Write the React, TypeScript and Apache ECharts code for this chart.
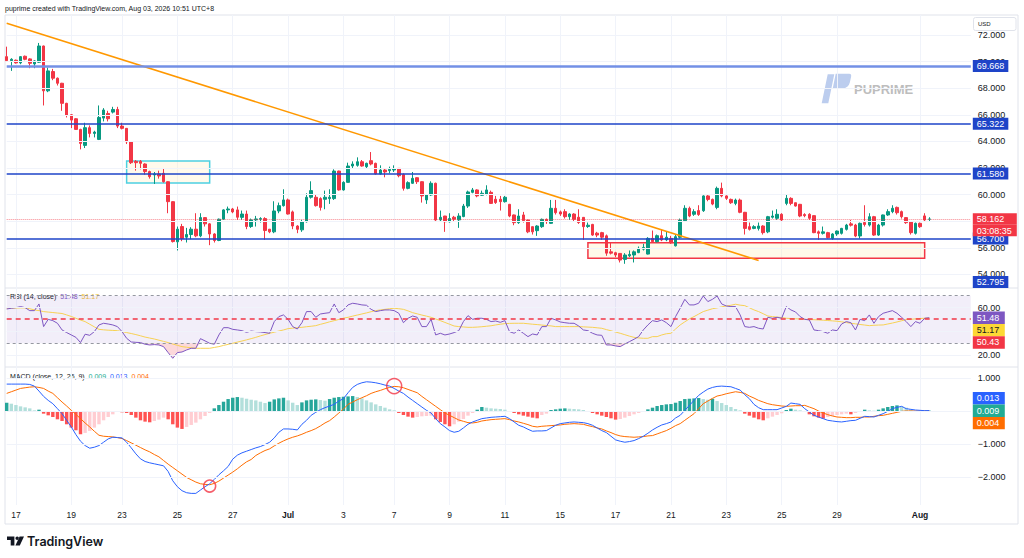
import { useEffect, useRef } from "react";
import * as echarts from "echarts";

// ---------- axis ticks / categories ----------
const slotCount = 210;
const tickIdx = [2, 14, 25, 37, 49, 61, 73, 84, 96, 108, 120, 132, 144, 156, 168, 180, 198];
const tickText = ["17", "19", "23", "25", "27", "Jul", "3", "7", "9", "11", "15", "17", "21", "23", "25", "29", "Aug"];
const monthTicks = ["Jul", "Aug"];

// ---------- OHLC (4H bars) ----------
const opens = [
  70.37, 70.07, 70.10, 69.90, 70.40, 70.20, 69.82, 69.95, 71.17, 67.80,
  69.25, 68.75, 68.37, 66.86, 66.00, 65.70, 64.90, 63.70, 65.03, 64.60,
  64.15, 65.75, 66.10, 66.20, 66.40, 65.15, 64.98, 63.97, 62.50, 62.50,
  62.30, 61.73, 61.48, 61.55, 61.60, 60.97, 59.47, 56.45, 57.60, 56.80,
  57.00, 57.40, 56.90, 58.27, 57.80, 57.04, 56.55, 58.15, 58.85, 58.92,
  58.85, 58.29, 58.54, 57.60, 58.10, 58.15, 58.20, 57.40, 57.20, 58.77,
  59.17, 59.60, 58.70, 57.64, 57.35, 57.96, 59.80, 59.80, 59.70, 59.65,
  59.70, 59.70, 61.77, 60.35, 60.92, 62.15, 62.20, 62.47, 62.10, 62.55,
  62.35, 61.55, 61.85, 61.80, 61.85, 61.97, 61.50, 60.47, 60.85, 61.27,
  60.97, 59.60, 59.97, 60.85, 58.10, 58.39, 57.96, 58.30, 58.10, 58.35,
  59.14, 60.17, 60.35, 59.95, 60.02, 60.17, 59.65, 59.65, 59.47, 59.27,
  58.47, 57.89, 58.47, 58.09, 57.59, 57.29, 57.59, 58.14, 57.84, 58.97,
  58.70, 58.72, 58.34, 58.54, 58.30, 58.29, 57.60, 57.76, 57.10, 57.14,
  56.90, 55.70, 55.63, 55.58, 55.13, 55.40, 55.46, 55.64, 55.90, 55.53,
  56.71, 56.46, 56.91, 56.60, 56.71, 56.15, 56.79, 58.04, 58.97, 58.52,
  58.80, 58.79, 59.90, 59.64, 59.04, 60.47, 59.90, 59.64, 59.34, 59.59,
  58.67, 57.59, 57.46, 57.46, 57.64, 57.20, 58.30, 58.22, 58.52, 59.34,
  59.72, 59.39, 59.27, 58.50, 58.52, 58.42, 57.20, 57.09, 57.14, 56.71,
  57.04, 57.09, 57.39, 57.80, 57.71, 56.89, 57.90, 57.71, 58.34, 56.96,
  57.71, 58.47, 58.72, 59.04, 58.72, 58.27, 57.96, 57.09, 57.84, 58.40,
  58.15,
];
const highs = [
  71.12, 70.25, 70.15, 70.40, 70.45, 70.25, 70.10, 71.40, 71.20, 69.55,
  69.45, 68.80, 68.40, 66.90, 66.05, 65.75, 64.95, 65.40, 65.20, 64.80,
  66.70, 66.50, 66.30, 66.60, 66.60, 65.40, 65.00, 64.00, 62.60, 62.60,
  62.35, 61.80, 61.70, 61.80, 62.00, 61.00, 59.50, 57.60, 57.80, 57.50,
  57.55, 58.60, 58.60, 58.30, 57.85, 57.10, 58.20, 58.90, 59.10, 59.00,
  59.10, 58.80, 58.80, 58.20, 58.40, 58.30, 58.30, 57.40, 59.50, 59.40,
  60.40, 59.70, 58.80, 57.70, 58.10, 60.10, 61.00, 60.00, 59.80, 60.30,
  60.40, 61.90, 61.80, 61.00, 62.40, 62.50, 62.80, 62.60, 62.40, 63.20,
  62.40, 62.20, 62.00, 62.10, 62.20, 62.00, 61.60, 61.00, 61.70, 61.30,
  61.00, 60.00, 61.00, 60.90, 58.80, 58.40, 58.60, 58.40, 58.60, 59.30,
  60.30, 60.50, 60.40, 60.30, 60.70, 60.30, 59.90, 59.90, 59.90, 59.30,
  58.50, 58.90, 58.70, 58.10, 57.60, 57.70, 58.20, 58.20, 59.60, 59.60,
  58.80, 58.90, 58.60, 58.60, 58.90, 58.30, 57.90, 57.80, 57.20, 57.20,
  57.00, 56.40, 55.70, 55.60, 55.60, 55.80, 55.80, 56.10, 56.30, 56.80,
  57.30, 57.00, 57.40, 57.20, 56.90, 57.00, 58.20, 59.20, 59.10, 58.90,
  59.20, 59.95, 60.00, 59.70, 60.60, 60.90, 59.95, 59.70, 59.70, 59.70,
  58.70, 57.90, 57.70, 57.90, 57.70, 58.40, 58.80, 58.90, 58.60, 60.00,
  59.80, 59.40, 59.30, 58.60, 58.60, 58.45, 57.30, 57.60, 57.20, 57.10,
  57.30, 57.50, 57.80, 58.10, 57.80, 57.90, 59.20, 58.60, 58.40, 57.80,
  58.50, 58.90, 59.20, 59.10, 58.80, 58.30, 58.00, 57.90, 57.90, 58.60,
  58.30,
];
const lows = [
  70.05, 69.30, 69.85, 69.80, 70.10, 69.50, 69.50, 69.90, 66.70, 67.70,
  68.60, 68.20, 66.30, 65.80, 65.00, 64.90, 63.40, 63.50, 64.30, 64.30,
  64.10, 65.50, 65.50, 66.10, 65.00, 64.90, 63.80, 62.30, 61.80, 61.90,
  61.50, 61.20, 60.80, 61.20, 60.90, 58.60, 56.40, 55.80, 56.50, 56.40,
  56.65, 56.80, 56.80, 57.60, 56.20, 56.40, 56.50, 58.10, 58.60, 58.60,
  58.10, 58.10, 57.40, 57.50, 57.60, 57.90, 56.60, 57.10, 57.10, 58.60,
  59.10, 58.50, 57.40, 57.10, 57.20, 57.90, 59.70, 59.10, 58.80, 58.90,
  59.30, 59.60, 60.30, 60.30, 60.90, 62.00, 62.10, 62.10, 62.00, 62.20,
  61.50, 61.50, 61.30, 61.60, 61.70, 61.30, 60.30, 60.40, 60.80, 60.80,
  59.40, 59.30, 59.90, 58.00, 58.00, 57.20, 57.90, 58.00, 57.50, 58.30,
  59.00, 60.10, 59.80, 59.90, 59.95, 59.30, 59.30, 58.80, 59.40, 58.30,
  57.70, 57.80, 57.90, 57.10, 57.00, 56.90, 57.50, 57.80, 57.80, 58.50,
  58.40, 58.20, 58.10, 58.00, 57.80, 56.60, 57.50, 56.90, 56.80, 56.60,
  55.40, 55.50, 55.30, 54.90, 54.80, 55.30, 54.90, 55.60, 55.80, 55.50,
  56.40, 56.40, 56.50, 56.50, 56.30, 56.10, 56.70, 58.00, 58.30, 58.40,
  58.40, 58.70, 59.50, 59.20, 58.90, 59.80, 59.60, 59.30, 59.20, 58.60,
  57.00, 57.30, 57.40, 57.30, 57.00, 57.10, 58.20, 58.10, 58.00, 59.20,
  59.20, 59.10, 58.30, 58.30, 58.10, 57.10, 56.60, 57.00, 56.70, 56.60,
  56.90, 57.00, 57.30, 57.60, 56.80, 56.70, 57.60, 57.60, 56.90, 56.90,
  57.60, 58.40, 58.60, 58.50, 58.20, 57.80, 57.00, 57.00, 57.50, 58.00,
  58.00,
];
const closes = [
  70.07, 70.17, 69.90, 70.37, 70.17, 69.87, 70.05, 71.17, 67.80, 69.30,
  68.75, 68.37, 66.86, 65.98, 65.60, 64.90, 63.85, 65.03, 64.60, 64.70,
  65.80, 66.36, 65.70, 66.40, 65.15, 64.98, 63.97, 62.40, 62.40, 62.35,
  61.73, 61.35, 61.55, 61.40, 60.97, 59.47, 56.47, 57.40, 56.70, 57.00,
  57.40, 56.90, 58.27, 57.80, 57.04, 56.55, 58.15, 58.85, 58.92, 58.70,
  58.30, 58.54, 57.60, 58.10, 58.17, 58.20, 57.30, 57.20, 58.77, 59.17,
  59.60, 58.54, 57.64, 57.39, 57.96, 59.80, 60.30, 59.17, 59.04, 59.80,
  59.80, 61.77, 60.35, 60.92, 62.15, 62.30, 62.47, 62.15, 62.35, 62.30,
  61.55, 61.85, 61.70, 61.90, 61.95, 61.42, 60.47, 60.90, 61.22, 60.97,
  59.90, 59.97, 60.85, 58.09, 58.29, 57.96, 58.20, 58.15, 58.39, 59.14,
  60.20, 60.35, 59.90, 60.10, 60.35, 59.34, 59.40, 59.47, 59.80, 58.39,
  57.89, 58.39, 58.04, 57.20, 57.20, 57.64, 58.14, 57.97, 58.97, 58.64,
  58.54, 58.34, 58.54, 58.14, 57.90, 57.59, 57.70, 56.96, 56.96, 56.80,
  55.60, 55.60, 55.46, 55.08, 55.46, 55.50, 55.70, 55.96, 56.03, 56.71,
  56.46, 56.91, 56.59, 56.80, 56.38, 56.84, 58.09, 58.97, 58.39, 58.72,
  58.50, 59.90, 59.64, 59.29, 60.47, 59.90, 59.72, 59.39, 59.59, 58.67,
  57.46, 57.39, 57.59, 57.64, 57.14, 58.34, 58.39, 58.52, 58.09, 59.72,
  59.34, 59.14, 58.39, 58.42, 58.22, 57.14, 57.09, 57.20, 56.76, 57.04,
  57.26, 57.46, 57.71, 57.70, 56.89, 57.84, 57.75, 58.34, 56.96, 57.71,
  58.47, 58.72, 58.97, 58.64, 58.34, 57.89, 57.14, 57.84, 57.59, 58.09,
  58.162,
];

// ---------- RSI (14) and its MA ----------
const rsi = [
  58.8, 59.4, 59.9, 60.8, 59.9, 57.4, 57.4, 63.0, 44.0, 50.1,
  49.0, 46.8, 41.2, 39.0, 37.0, 35.0, 30.6, 37.6, 36.7, 39.8,
  45.4, 46.8, 46.2, 45.4, 44.0, 39.8, 34.2, 31.1, 30.8, 30.6,
  29.2, 28.6, 28.9, 28.6, 27.2, 22.2, 17.4, 22.2, 22.7, 24.4,
  25.8, 25.8, 33.9, 32.0, 30.0, 29.2, 37.0, 43.1, 43.1, 41.7,
  41.2, 40.6, 39.2, 40.3, 39.8, 39.5, 39.0, 38.4, 48.2, 52.4,
  53.8, 50.1, 44.0, 42.0, 47.3, 56.6, 56.6, 51.8, 54.6, 55.2,
  55.7, 63.0, 55.7, 58.0, 62.2, 63.6, 63.0, 62.2, 61.9, 58.5,
  56.6, 57.4, 58.0, 58.0, 57.4, 55.2, 47.3, 51.0, 52.9, 51.8,
  44.0, 44.0, 50.1, 37.0, 38.4, 37.0, 37.8, 39.0, 40.6, 48.2,
  53.2, 50.1, 51.0, 51.0, 50.1, 48.2, 48.7, 47.6, 49.0, 39.8,
  38.4, 41.2, 38.4, 35.6, 37.8, 37.0, 44.0, 44.0, 51.0, 49.6,
  47.9, 47.3, 46.8, 46.8, 44.5, 41.2, 40.6, 38.4, 37.0, 36.7,
  28.6, 28.6, 27.8, 27.2, 29.4, 31.4, 33.4, 35.6, 41.2, 45.4,
  49.0, 48.2, 49.6, 47.3, 44.0, 52.4, 59.4, 66.9, 62.2, 62.2,
  63.6, 69.7, 65.0, 66.9, 69.7, 63.0, 61.3, 60.8, 60.8, 53.8,
  44.0, 43.4, 44.0, 42.6, 42.0, 51.8, 51.0, 51.8, 51.0, 60.8,
  58.0, 56.3, 52.4, 50.1, 49.6, 41.2, 40.6, 39.8, 38.4, 41.2,
  40.6, 46.2, 48.2, 47.3, 41.2, 50.1, 49.0, 53.8, 46.8, 52.4,
  55.2, 56.3, 57.4, 55.2, 51.8, 48.2, 44.0, 48.2, 46.8, 51.0,
  51.48,
];
const rsiMA = [
  59.4, 59.5, 59.6, 59.7, 59.7, 59.0, 58.0, 57.4, 56.6, 56.2,
  55.8, 55.4, 55.0, 53.8, 52.5, 51.0, 49.5, 48.2, 46.0, 43.8,
  41.7, 41.3, 41.0, 40.8, 40.6, 39.8, 39.0, 38.2, 37.3, 36.3,
  35.2, 34.4, 33.6, 32.6, 31.6, 30.6, 29.4, 28.3, 27.2, 26.7,
  26.2, 25.8, 25.8, 25.8, 25.8, 26.5, 27.2, 28.2, 29.1, 30.0,
  31.0, 31.9, 32.9, 33.9, 35.0, 36.2, 37.3, 38.4, 39.3, 40.3,
  41.2, 42.3, 42.7, 43.1, 43.4, 43.9, 44.3, 44.8, 45.9, 46.9,
  48.0, 49.0, 50.0, 51.1, 51.8, 52.8, 53.7, 54.6, 55.5, 56.5,
  57.4, 58.0, 58.5, 59.0, 59.4, 59.0, 58.5, 57.2, 55.7, 54.7,
  53.7, 52.8, 51.8, 50.4, 49.0, 47.5, 46.0, 44.5, 44.0, 43.7,
  43.4, 43.4, 43.6, 43.9, 44.3, 44.7, 45.4, 46.0, 46.5, 46.7,
  46.8, 46.8, 46.8, 46.4, 46.0, 45.7, 45.3, 44.9, 44.6, 44.0,
  44.0, 44.0, 44.0, 44.0, 44.0, 43.8, 43.6, 43.4, 43.0, 42.6,
  41.5, 40.5, 39.4, 38.4, 37.2, 36.0, 35.0, 34.5, 34.2, 34.2,
  35.6, 35.6, 37.0, 38.0, 38.4, 42.0, 45.4, 48.0, 50.5, 52.4,
  54.5, 56.6, 57.8, 59.0, 59.7, 60.6, 61.3, 61.9, 62.8, 62.0,
  61.6, 59.8, 58.0, 56.6, 54.8, 52.9, 52.4, 52.0, 51.6, 51.0,
  50.8, 50.6, 50.4, 50.1, 49.9, 49.8, 49.6, 49.4, 49.1, 48.8,
  48.5, 48.0, 47.4, 46.8, 46.3, 45.8, 45.3, 44.8, 45.1, 45.3,
  45.4, 46.2, 47.0, 47.9, 48.9, 49.9, 50.1, 50.5, 50.8, 51.0,
  51.17,
];
const rsiLevel = 50.43;

// ---------- MACD (12, 26, 9) ----------
const macd = [
  0.81, 0.81, 0.81, 0.81, 0.81, 0.80, 0.75, 0.60, 0.44, 0.32,
  0.22, 0.07, -0.08, -0.28, -0.48, -0.71, -0.91, -1.04, -1.12, -1.09,
  -1.04, -0.94, -0.84, -0.79, -0.80, -0.81, -0.94, -1.11, -1.29, -1.44,
  -1.52, -1.56, -1.59, -1.62, -1.65, -1.82, -2.10, -2.28, -2.40, -2.46,
  -2.48, -2.48, -2.38, -2.28, -2.19, -2.06, -1.92, -1.80, -1.67, -1.45,
  -1.33, -1.26, -1.21, -1.16, -1.11, -1.07, -1.01, -0.94, -0.81, -0.64,
  -0.54, -0.54, -0.55, -0.57, -0.40, -0.28, -0.13, -0.04, 0.04, 0.10,
  0.15, 0.20, 0.30, 0.37, 0.55, 0.71, 0.80, 0.85, 0.88, 0.87,
  0.85, 0.82, 0.78, 0.75, 0.68, 0.60, 0.53, 0.42, 0.32, 0.22,
  0.12, 0.02, -0.06, -0.23, -0.38, -0.48, -0.59, -0.64, -0.61, -0.51,
  -0.40, -0.33, -0.28, -0.23, -0.21, -0.19, -0.18, -0.17, -0.16, -0.23,
  -0.33, -0.43, -0.48, -0.55, -0.61, -0.60, -0.60, -0.59, -0.51, -0.43,
  -0.38, -0.36, -0.34, -0.33, -0.34, -0.35, -0.38, -0.43, -0.51, -0.59,
  -0.65, -0.76, -0.87, -0.91, -0.94, -0.92, -0.89, -0.83, -0.76, -0.67,
  -0.57, -0.49, -0.42, -0.38, -0.33, -0.21, -0.13, 0.02, 0.17, 0.32,
  0.47, 0.57, 0.66, 0.71, 0.74, 0.75, 0.74, 0.73, 0.68, 0.63,
  0.49, 0.37, 0.20, 0.10, 0.04, 0.04, 0.04, 0.04, 0.09, 0.14,
  0.24, 0.22, 0.20, 0.07, -0.03, -0.13, -0.18, -0.23, -0.28, -0.30,
  -0.32, -0.33, -0.31, -0.29, -0.28, -0.22, -0.16, -0.17, -0.18, -0.13,
  -0.08, -0.01, 0.07, 0.11, 0.14, 0.07, 0.05, 0.03, 0.02, 0.01,
  0.013,
];
const signal = [
  0.53, 0.58, 0.63, 0.68, 0.70, 0.72, 0.73, 0.71, 0.68, 0.60,
  0.53, 0.40, 0.27, 0.15, 0.02, -0.10, -0.23, -0.36, -0.48, -0.61,
  -0.73, -0.76, -0.77, -0.78, -0.80, -0.83, -0.89, -0.96, -1.03, -1.10,
  -1.17, -1.23, -1.31, -1.38, -1.49, -1.60, -1.70, -1.80, -1.90, -2.00,
  -2.07, -2.14, -2.19, -2.21, -2.22, -2.18, -2.11, -2.02, -1.93, -1.84,
  -1.74, -1.63, -1.53, -1.46, -1.34, -1.26, -1.19, -1.14, -1.05, -0.97,
  -0.90, -0.84, -0.79, -0.75, -0.70, -0.64, -0.59, -0.53, -0.45, -0.36,
  -0.29, -0.18, -0.06, 0.06, 0.20, 0.27, 0.34, 0.40, 0.46, 0.53,
  0.58, 0.62, 0.67, 0.71, 0.74, 0.73, 0.70, 0.65, 0.60, 0.55,
  0.44, 0.34, 0.24, 0.14, 0.04, -0.06, -0.13, -0.20, -0.27, -0.31,
  -0.35, -0.36, -0.34, -0.30, -0.28, -0.26, -0.25, -0.24, -0.23, -0.26,
  -0.30, -0.33, -0.37, -0.41, -0.46, -0.48, -0.46, -0.45, -0.44, -0.43,
  -0.42, -0.40, -0.39, -0.38, -0.39, -0.40, -0.44, -0.47, -0.51, -0.54,
  -0.60, -0.65, -0.71, -0.75, -0.77, -0.78, -0.79, -0.78, -0.77, -0.75,
  -0.74, -0.69, -0.64, -0.59, -0.52, -0.44, -0.38, -0.28, -0.18, -0.08,
  0.07, 0.22, 0.30, 0.38, 0.45, 0.48, 0.52, 0.55, 0.58, 0.56,
  0.53, 0.45, 0.39, 0.32, 0.27, 0.22, 0.19, 0.17, 0.15, 0.14,
  0.15, 0.16, 0.16, 0.17, 0.12, 0.07, 0.00, -0.06, -0.11, -0.15,
  -0.18, -0.19, -0.20, -0.20, -0.19, -0.19, -0.18, -0.18, -0.16, -0.14,
  -0.13, -0.10, -0.07, -0.04, -0.01, 0.00, 0.00, 0.00, 0.00, 0.00,
  0.004,
];
const hist = [
  0.25, 0.22, 0.18, 0.14, 0.11, 0.08, 0.02, 0.04, -0.08, -0.13,
  -0.18, -0.25, -0.30, -0.40, -0.50, -0.58, -0.70, -0.66, -0.60, -0.50,
  -0.40, -0.28, -0.18, -0.10, -0.02, -0.04, -0.06, -0.12, -0.20, -0.28,
  -0.32, -0.34, -0.30, -0.26, -0.20, -0.25, -0.40, -0.50, -0.54, -0.48,
  -0.42, -0.35, -0.25, -0.15, -0.06, 0.08, 0.18, 0.28, 0.36, 0.40,
  0.42, 0.40, 0.37, 0.34, 0.32, 0.28, 0.24, 0.28, 0.35, 0.38,
  0.40, 0.32, 0.25, 0.18, 0.26, 0.32, 0.34, 0.35, 0.33, 0.31,
  0.36, 0.40, 0.42, 0.43, 0.44, 0.45, 0.42, 0.38, 0.32, 0.26,
  0.20, 0.15, 0.10, 0.05, 0.02, -0.06, -0.12, -0.17, -0.20, -0.18,
  -0.16, -0.15, -0.14, -0.25, -0.33, -0.40, -0.46, -0.40, -0.32, -0.24,
  -0.14, -0.06, 0.04, 0.12, 0.10, 0.08, 0.07, 0.06, 0.04, -0.02,
  -0.06, -0.10, -0.14, -0.17, -0.20, -0.22, -0.12, -0.08, 0.03, 0.05,
  0.07, 0.08, 0.07, 0.06, 0.05, 0.03, -0.02, -0.06, -0.10, -0.14,
  -0.18, -0.22, -0.26, -0.24, -0.20, -0.15, -0.10, -0.06, -0.02, 0.05,
  0.10, 0.15, 0.18, 0.20, 0.21, 0.25, 0.30, 0.36, 0.37, 0.38,
  0.39, 0.36, 0.34, 0.37, 0.30, 0.24, 0.18, 0.12, 0.06, 0.02,
  -0.08, -0.14, -0.20, -0.25, -0.28, -0.22, -0.17, -0.12, -0.07, 0.03,
  0.07, 0.04, 0.02, -0.02, -0.10, -0.16, -0.20, -0.23, -0.18, -0.15,
  -0.12, -0.10, -0.08, -0.10, -0.06, -0.02, 0.04, 0.02, 0.01, 0.04,
  0.08, 0.12, 0.15, 0.17, 0.14, 0.10, 0.05, -0.02, -0.01, 0.005,
  0.009,
];

// ---------- axis tick values (the ones not hidden behind value boxes) ----------
const priceTicks = [72, 70, 68, 66, 64, 62, 60, 56, 54];
const rsiTicks = [60, 20];
const macdTicks = [1, -1, -2];
const hiddenGridTicks = { price: [58], rsi: [40], macd: [0] };

// ---------- drawings ----------
const keyLevels = [69.668, 65.322, 61.58, 56.7];
const offscreenLevel = 52.795;
const lastPrice = 58.162;
const countdown = "03:08:35";
const trendFrom = [0, 72.88];
const trendTo = [163, 55.05];
const cyanBox = [26, 62.53, 44, 60.87];
const redBox = [126, 56.38, 199, 55.21];
const crossPoints = [
  [44, -2.26],
  [84, 0.75],
];

// ---------- look ----------
const FONT = '"Liberation Sans", Arial, sans-serif';
const TEXT = "#131722";
const GRIDC = "#F0F3FA";
const BORDER = "#E0E3EB";
const UP = "#089981";
const DOWN = "#F23645";
const BLUE = "#1E44C8";
const CLEAR = "rgba(0,0,0,0)";
const MAIN_MIN = 52.98;
const MAIN_MAX = 73.5;

echarts.graphic.registerShape(
  "puLogo",
  echarts.graphic.extendPath(
    "M6 1 L12.6 1 L6.6 30 L0 30 Z M14 0.5 L27.5 0.5 Q30 0.5 29.4 3.5 L28.2 9 Q26.8 15 20.5 15 L11.1 15 Z",
    {}
  )
);
echarts.graphic.registerShape(
  "tvLogo",
  echarts.graphic.extendPath(
    "M0 0 H7.4 V9 H3.7 V3.6 H0 Z M12.6 0 H17 L12.8 9 H8.4 Z M8.4 1.8 A1.8 1.8 0 1 0 12 1.8 A1.8 1.8 0 1 0 8.4 1.8 Z",
    {}
  )
);

const fmtMinus = (s: string) => s.replace("-", "\u2212");

function tickMarks(values: number[], digits: number, hiddenValues: number[]) {
  const labelled = values.map((v) => ({
    yAxis: v,
    lineStyle: { color: GRIDC, width: 1, type: "solid" },
    label: {
      show: true,
      position: "end",
      distance: 7,
      formatter: fmtMinus(v.toFixed(digits)),
      color: TEXT,
      fontSize: 9,
      fontFamily: FONT,
    },
  }));
  const plain = hiddenValues.map((v) => ({
    yAxis: v,
    lineStyle: { color: GRIDC, width: 1, type: "solid" },
    label: { show: false },
  }));
  return [...labelled, ...plain];
}

function histColor(i: number) {
  const h = hist[i];
  const p = i > 0 ? hist[i - 1] : h;
  if (h >= 0) return h >= p ? "#26A69A" : "#B2DFDB";
  return h < p ? "#FF5252" : "#FFCDD2";
}

const boxRow = (bg: string, fg: string, h: number) => ({
  backgroundColor: bg,
  color: fg,
  height: h,
  lineHeight: h,
  padding: [0, 4],
  fontSize: 9,
  fontFamily: FONT,
  align: "left",
});

function buildOption() {
  const cats = Array.from({ length: slotCount }, (_, i) => "b" + i);
  const last = closes.length - 1;
  const isTick = (i: number) => tickIdx.includes(i);

  const xBase = (gridIndex: number, showLabel: boolean) => ({
    type: "category",
    gridIndex,
    data: cats,
    boundaryGap: false,
    axisLine: { show: false },
    axisTick: { show: false },
    splitLine: { show: true, interval: (i: number) => isTick(i), lineStyle: { color: GRIDC, width: 1 } },
    axisLabel: showLabel
      ? {
          show: true,
          interval: (i: number) => isTick(i),
          formatter: (_v: string, i: number) => {
            const k = tickIdx.indexOf(i);
            if (k < 0) return "";
            const t = tickText[k];
            return monthTicks.includes(t) ? `{b|${t}}` : t;
          },
          color: TEXT,
          fontSize: 8.5,
          fontFamily: FONT,
          margin: 5,
          rich: { b: { fontWeight: "bold", fontSize: 8.5, color: TEXT, fontFamily: FONT } },
        }
      : { show: false },
  });

  const hidden = { lineStyle: { color: CLEAR, width: 0 }, symbol: "none", silent: true };

  return {
    animation: false,
    backgroundColor: "#ffffff",
    textStyle: { fontFamily: FONT },
    grid: [
      { left: 6.7, right: 53.2, top: 15, height: 273 },
      { left: 6.7, right: 53.2, top: 288, height: 79 },
      { left: 6.7, right: 53.2, top: 367, height: 138 },
    ],
    xAxis: [xBase(0, false), xBase(1, false), xBase(2, true)],
    yAxis: [
      { type: "value", gridIndex: 0, min: MAIN_MIN, max: MAIN_MAX, show: false },
      { type: "value", gridIndex: 1, min: 10.1, max: 76.4, show: false },
      { type: "value", gridIndex: 2, min: -2.83, max: 1.325, show: false },
    ],
    graphic: [
      { type: "rect", silent: true, z: -10, shape: { x: 5, y: 15, width: 1013, height: 509 }, style: { fill: "none", stroke: BORDER, lineWidth: 1 } },
      { type: "line", silent: true, shape: { x1: 5, y1: 288, x2: 1018, y2: 288 }, style: { stroke: BORDER, lineWidth: 1 } },
      { type: "line", silent: true, shape: { x1: 5, y1: 367, x2: 1018, y2: 367 }, style: { stroke: BORDER, lineWidth: 1 } },
      {
        type: "text", silent: true, x: 5, y: 8,
        style: { text: "puprime created with TradingView.com, Aug 03, 2026 10:51 UTC+8", fill: TEXT, fontSize: 7, fontFamily: FONT, verticalAlign: "middle" },
      },
      { type: "rect", silent: true, z: 50, shape: { x: 973.5, y: 17.5, width: 42.5, height: 13, r: 2 }, style: { fill: "#fff", stroke: BORDER, lineWidth: 1 } },
      { type: "text", silent: true, z: 51, x: 978, y: 24, style: { text: "USD", fill: TEXT, fontSize: 6, fontFamily: FONT, verticalAlign: "middle" } },
      { type: "puLogo", silent: true, z: -5, x: 821.7, y: 73.3, style: { fill: "#BCCDEE" } },
      { type: "text", silent: true, z: -5, x: 854, y: 89, style: { text: "PUPRIME", fill: "#BDBDBD", fontSize: 13, fontWeight: "bold", fontFamily: FONT, verticalAlign: "middle" } },
      {
        type: "text", silent: true, x: 10, y: 296,
        style: {
          text: `{t|RSI (14, close)}  {p|${rsi[last].toFixed(2)}}  {y|${rsiMA[last].toFixed(2)}}`,
          verticalAlign: "middle", fontSize: 7, fontFamily: FONT,
          rich: {
            t: { fill: TEXT, fontSize: 7, fontFamily: FONT },
            p: { fill: "#7E57C2", fontSize: 7, fontFamily: FONT },
            y: { fill: "#F2C230", fontSize: 7, fontFamily: FONT },
          },
        },
      },
      {
        type: "text", silent: true, x: 10, y: 376,
        style: {
          text: `{t|MACD (close, 12, 26, 9)}  {h|${hist[last].toFixed(3)}}  {m|${macd[last].toFixed(3)}}  {s|${signal[last].toFixed(3)}}`,
          verticalAlign: "middle", fontSize: 7, fontFamily: FONT,
          rich: {
            t: { fill: TEXT, fontSize: 7, fontFamily: FONT },
            h: { fill: "#22AB94", fontSize: 7, fontFamily: FONT },
            m: { fill: "#2962FF", fontSize: 7, fontFamily: FONT },
            s: { fill: "#FF6D00", fontSize: 7, fontFamily: FONT },
          },
        },
      },
      { type: "tvLogo", silent: true, x: 7, y: 536.5, style: { fill: TEXT } },
      { type: "text", silent: true, x: 27, y: 541.5, style: { text: "TradingView", fill: TEXT, fontSize: 12.5, fontWeight: 600, fontFamily: "Inter, " + FONT, verticalAlign: "middle" } },
    ],
    series: [
      // main pane: gridlines + price tick labels
      {
        type: "line", xAxisIndex: 0, yAxisIndex: 0, data: closes, ...hidden, z: 1,
        markLine: { silent: true, symbol: ["none", "none"], animation: false, data: tickMarks(priceTicks, 3, hiddenGridTicks.price) },
      },
      {
        type: "candlestick", xAxisIndex: 0, yAxisIndex: 0, z: 3, clip: false, barWidth: 3,
        data: opens.map((o, i) => [o, closes[i], lows[i], highs[i]]),
        itemStyle: { color: UP, color0: DOWN, borderColor: UP, borderColor0: DOWN, borderWidth: 1 },
        silent: true,
      },
      // drawings on main pane
      {
        type: "line", xAxisIndex: 0, yAxisIndex: 0, data: closes, ...hidden, z: 5,
        markArea: {
          silent: true,
          data: [
            [
              { coord: [cyanBox[0], cyanBox[1]], itemStyle: { color: "rgba(255,236,179,0.25)", borderColor: "#4DD0E1", borderWidth: 1.5 } },
              { coord: [cyanBox[2], cyanBox[3]] },
            ],
            [
              { coord: [redBox[0], redBox[1]], itemStyle: { color: "rgba(255,236,179,0.3)", borderColor: "#F23645", borderWidth: 1.5 } },
              { coord: [redBox[2], redBox[3]] },
            ],
          ],
        },
        markLine: {
          silent: true, symbol: ["none", "none"], animation: false,
          data: [
            [
              { coord: trendFrom, lineStyle: { color: "#FF9800", width: 1.6, type: "solid" }, label: { show: false } },
              { coord: trendTo },
            ],
            ...keyLevels.map((v, k) => ({
              yAxis: v,
              lineStyle: k === 0 ? { color: "#7390E6", width: 2.5, type: "solid" } : { color: BLUE, width: 1.5, type: "solid" },
              label: {
                show: true, position: "end", distance: 2, formatter: v.toFixed(3),
                backgroundColor: BLUE, color: "#fff", padding: [2, 4, 1, 4], fontSize: 9, fontFamily: FONT,
              },
            })),
            {
              yAxis: MAIN_MIN,
              lineStyle: { color: CLEAR, width: 0 },
              label: {
                show: true, position: "end", distance: 2,
                formatter: `{a|${offscreenLevel.toFixed(3)}}\n{h| }`,
                rich: {
                  a: boxRow(BLUE, "#fff", 12),
                  h: { height: 12, lineHeight: 12, fontSize: 9 },
                },
              },
            },
            {
              yAxis: lastPrice,
              lineStyle: { color: "rgba(242,54,69,0.6)", width: 1, type: "dotted" },
              label: {
                show: true, position: "end", distance: 2,
                formatter: `{h| }\n{a|${lastPrice.toFixed(3)}}\n{b|${countdown}}`,
                rich: {
                  h: { height: 11.5, lineHeight: 11.5, fontSize: 9 },
                  a: { ...boxRow(DOWN, "#fff", 11.5), width: 36 },
                  b: { ...boxRow(DOWN, "#fff", 11.5), width: 36 },
                },
              },
            },
          ],
        },
      },
      // RSI pane: gridlines, band, levels
      {
        type: "line", xAxisIndex: 1, yAxisIndex: 1, data: rsi, ...hidden, z: 1,
        markArea: { silent: true, data: [[{ yAxis: 70, itemStyle: { color: "rgba(126,87,194,0.1)" } }, { yAxis: 30 }]] },
        markLine: {
          silent: true, symbol: ["none", "none"], animation: false,
          data: [
            ...tickMarks(rsiTicks, 2, hiddenGridTicks.rsi),
            { yAxis: 70, lineStyle: { color: "#9598A1", width: 1, type: [3, 3] }, label: { show: false } },
            { yAxis: 30, lineStyle: { color: "#9598A1", width: 1, type: [3, 3] }, label: { show: false } },
            { yAxis: rsiLevel, lineStyle: { color: DOWN, width: 1.5, type: [5, 4] }, label: { show: false } },
          ],
        },
      },
      {
        type: "line", xAxisIndex: 1, yAxisIndex: 1, stack: "oversold", data: rsi.map((v) => Math.min(v, 30)),
        ...hidden, z: 2,
      },
      {
        type: "line", xAxisIndex: 1, yAxisIndex: 1, stack: "oversold", data: rsi.map((v) => 30 - Math.min(v, 30)),
        ...hidden, z: 2, areaStyle: { color: "rgba(242,54,69,0.28)" },
      },
      {
        type: "line", xAxisIndex: 1, yAxisIndex: 1, data: rsiMA, symbol: "none", silent: true, z: 3,
        lineStyle: { color: "#F7D154", width: 1 },
      },
      {
        type: "line", xAxisIndex: 1, yAxisIndex: 1, data: rsi, symbol: "none", silent: true, z: 4,
        lineStyle: { color: "#7E57C2", width: 1 },
        markLine: {
          silent: true, symbol: ["none", "none"], animation: false,
          data: [
            {
              yAxis: rsi[last],
              lineStyle: { color: CLEAR, width: 0 },
              label: {
                show: true, position: "end", distance: 2,
                formatter: `{h| }\n{h| }\n{p|${rsi[last].toFixed(2)}}\n{y|${rsiMA[last].toFixed(2)}}\n{r|${rsiLevel.toFixed(2)}}`,
                rich: {
                  h: { height: 12.4, lineHeight: 12.4, fontSize: 9 },
                  p: { ...boxRow("#7E57C2", "#fff", 12.4), width: 24 },
                  y: { ...boxRow("#FDD835", TEXT, 12.4), width: 24 },
                  r: { ...boxRow(DOWN, "#fff", 12.4), width: 24 },
                },
              },
            },
          ],
        },
      },
      // MACD pane
      {
        type: "line", xAxisIndex: 2, yAxisIndex: 2, data: macd, ...hidden, z: 1,
        markLine: { silent: true, symbol: ["none", "none"], animation: false, data: tickMarks(macdTicks, 3, hiddenGridTicks.macd) },
      },
      {
        type: "bar", xAxisIndex: 2, yAxisIndex: 2, barWidth: 3.4, silent: true, z: 2,
        data: hist.map((v, i) => ({ value: v, itemStyle: { color: histColor(i) } })),
      },
      {
        type: "line", xAxisIndex: 2, yAxisIndex: 2, data: signal, symbol: "none", silent: true, z: 3,
        lineStyle: { color: "#FF6D00", width: 1 },
      },
      {
        type: "line", xAxisIndex: 2, yAxisIndex: 2, data: macd, symbol: "none", silent: true, z: 4,
        lineStyle: { color: "#2962FF", width: 1 },
        markLine: {
          silent: true, symbol: ["none", "none"], animation: false,
          data: [
            {
              yAxis: hist[last],
              lineStyle: { color: CLEAR, width: 0 },
              label: {
                show: true, position: "end", distance: 2,
                formatter: `{m|${macd[last].toFixed(3)}}\n{d|${hist[last].toFixed(3)}}\n{s|${signal[last].toFixed(3)}}`,
                rich: {
                  m: { ...boxRow("#2962FF", "#fff", 12.4), width: 24 },
                  d: { ...boxRow("#22AB94", "#fff", 12.4), width: 24 },
                  s: { ...boxRow("#FF6D00", "#fff", 12.4), width: 24 },
                },
              },
            },
          ],
        },
      },
      {
        type: "scatter", xAxisIndex: 2, yAxisIndex: 2, silent: true, z: 6,
        data: crossPoints.map((p, k) => ({ value: p, symbolSize: k === 0 ? 12 : 15 })),
        itemStyle: { color: CLEAR, borderColor: DOWN, borderWidth: 1.5 },
      },
    ],
  };
}

export default function App() {
  const ref = useRef<HTMLDivElement>(null);
  useEffect(() => {
    if (!ref.current) return;
    const chart = echarts.init(ref.current, undefined, { renderer: "svg" });
    chart.setOption(buildOption() as any);
    return () => chart.dispose();
  }, []);
  return (
    <div
      ref={ref}
      style={{ position: "absolute", left: 0, top: 0, width: 1024, height: 558, background: "#fff" }}
    />
  );
}
